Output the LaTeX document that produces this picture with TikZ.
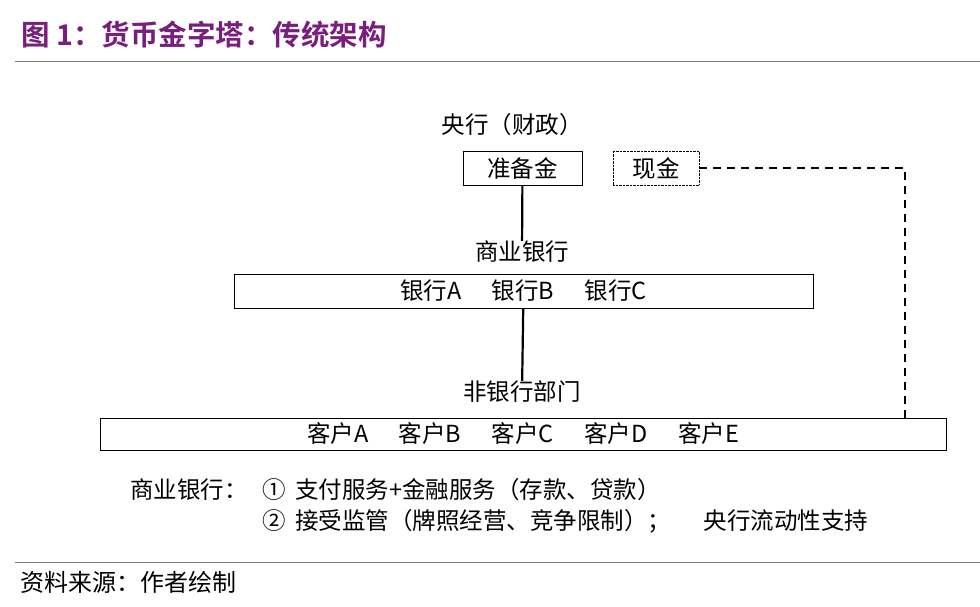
\documentclass[tikz,border=0pt]{standalone}
\usepackage{fontspec}
\setmainfont{Noto Sans CJK SC}
\newfontfamily\titlefont{Noto Sans CJK SC Bold}
\usetikzlibrary{positioning}
\definecolor{titlepurple}{HTML}{7A1E7E}
\tikzset{
lbl/.style={font=\fontsize{23.5}{26}\selectfont, inner sep=0pt},
box/.style={draw, thick, minimum height=34pt, inner sep=0pt, font=\fontsize{23.5}{26}\selectfont},
link/.style={draw, line width=2.2pt},
cash/.style={draw, line width=2.2pt, dash pattern=on 8pt off 6pt}
}
\begin{document}
\begin{tikzpicture}[x=1pt,y=-1pt]
    \useasboundingbox (0,0) rectangle (980,606);
    \node [anchor=west, text=titlepurple, font=\titlefont\fontsize{28.5}{30}\selectfont] (title) at (18,35) {图 1：货币金字塔：传统架构};
    \draw [gray, thin] (15,61) -- (980,61);
    \node [lbl] (cb) at (512,125) {央行（财政）};
    \node [box, minimum width=119pt] (res) at (522.5,168) {准备金};
    \node [box, thin, densely dotted, minimum width=86pt] (cash) at (656,168) {现金};
    \node [lbl] (cbanks) at (522,252) {商业银行};
    \node [box, minimum width=579pt] (banks) at (523.5,291) {银行A\hspace{1.3em}银行B\hspace{1.3em}银行C};
    \node [lbl] (nonbank) at (522,392) {非银行部门};
    \node [box, minimum width=846pt, minimum height=32pt] (clients) at (523,434) {客户A\hspace{1.3em}客户B\hspace{1.3em}客户C\hspace{1.3em}客户D\hspace{1.3em}客户E};
    \coordinate (corner) at (905,168);
    \path [link] (res) -- (cbanks);
    \path [link] (banks) -- (nonbank);
    \path [cash] (cash.east) -- (corner) -- (corner |- clients.north);
    \node [lbl, anchor=west] (note) at (130,490) {商业银行：};
    \node [lbl, anchor=west] (fn1) at (262,490) {①\hspace{0.4em}支付服务+金融服务（存款、贷款）};
    \node [lbl, anchor=west] (fn2) at (262,521) {②\hspace{0.4em}接受监管（牌照经营、竞争限制）；\hspace{1.4em}央行流动性支持};
    \draw [gray, thin] (15,562) -- (980,562);
    \node [anchor=west, inner sep=0pt, font=\fontsize{24}{26}\selectfont] (src) at (20,582) {资料来源：作者绘制};
\end{tikzpicture}
\end{document}
